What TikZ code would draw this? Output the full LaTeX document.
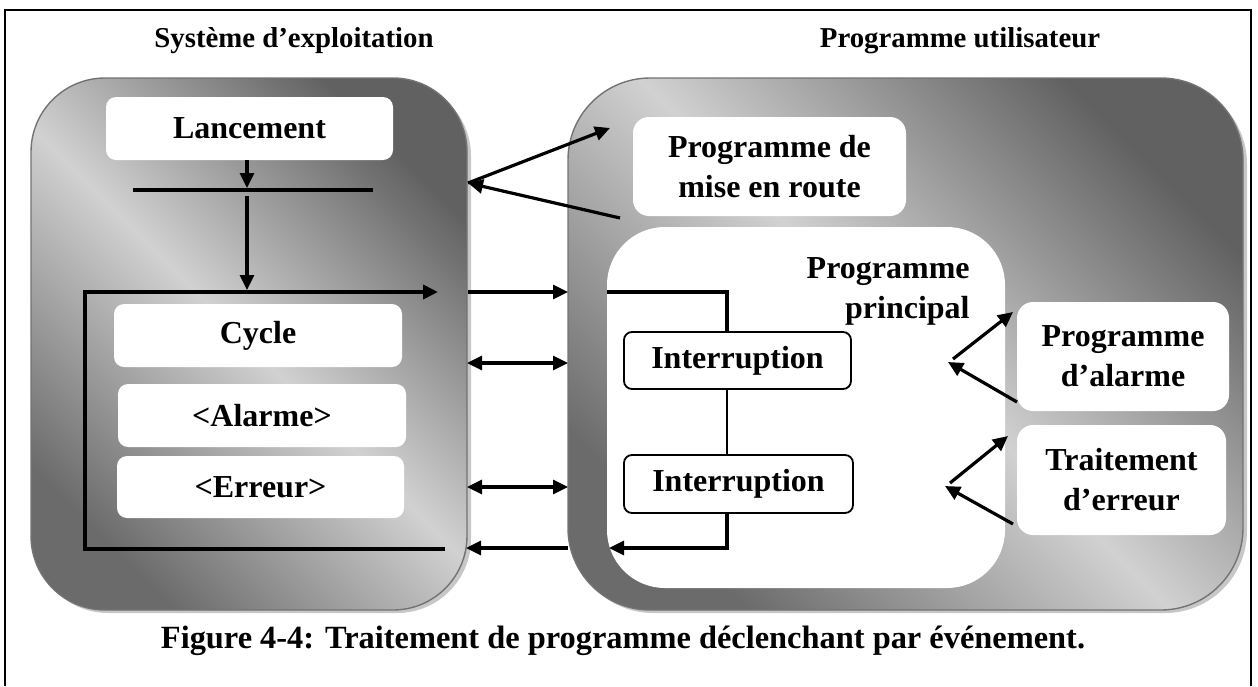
\documentclass[tikz,border=0pt]{standalone}
\usepackage{fontspec}
\setmainfont{Liberation Serif}
\usetikzlibrary{arrows.meta}
\begin{document}
\begin{tikzpicture}[x=0.5pt,y=-0.5pt,
  every node/.style={font=\bfseries\fontsize{16}{20}\selectfont, inner sep=0pt},
  bigbox/.style={draw=black!55, line width=0.7pt, shading=axis,
    top color=black!62, bottom color=black!58, middle color=black!18,
    shading angle=-45},
  shadowbox/.style={fill=black!22},
  wbox/.style={fill=white, rounded corners=5pt, align=center},
  ibox/.style={draw=black, line width=0.9pt, fill=white, rounded corners=4pt},
  link/.style={line width=1.6pt},
  arr/.style={link, -{Triangle[length=7.5pt,width=7pt]}},
  darr/.style={link, {Triangle[length=7.5pt,width=7pt]}-{Triangle[length=7.5pt,width=7pt]}},
  title/.style={font=\bfseries\fontsize{14.4}{17}\selectfont},
]
\useasboundingbox (0,0) rectangle (1258,686);

% outer frame (open at the bottom)
\draw[line width=1pt] (5,686) -- (5,10) -- (1251,10) -- (1251,686);

% column titles
\node[title] (tos) at (294,41) {Système d’exploitation};
\node[title] (tup) at (960,41) {Programme utilisateur};

% large shaded panels with their shadows
\fill[shadowbox, rounded corners=37pt] (34,82) rectangle (471,613);
\draw[bigbox, rounded corners=37pt] (31,78) rectangle (467,610);
\fill[shadowbox, rounded corners=41pt] (571,82) rectangle (1247,613);
\draw[bigbox, rounded corners=41pt] (568,78) rectangle (1243,610);

% operating system side
\node[wbox, minimum width=143.5pt, minimum height=31.5pt] (lanc) at (249.5,128.5) {Lancement};
\node[wbox, minimum width=144pt, minimum height=31.5pt] (cyc) at (258,335.5) {Cycle};
\node[wbox, minimum width=144pt, minimum height=31.5pt] (alm) at (262,415.5) {<Alarme>};
\node[wbox, minimum width=143.5pt, minimum height=31pt] (err) at (260.5,487) {<Erreur>};

\coordinate (barL) at (133,190);
\coordinate (barR) at (373,190);
\coordinate (barC) at (247,190);
\draw[link] (barL) -- (barR);
\draw[arr] (lanc.south -| barC) -- ([yshift=1pt]barC);
\coordinate (loopTop) at (247,292);
\coordinate (loopTL) at (85,292);
\coordinate (loopBL) at (85,549);
\coordinate (loopBR) at (445,549);
\coordinate (loopTR) at (438,292);
\draw[arr] ([yshift=-3pt]barC) -- ([yshift=1pt]loopTop);
\draw[line width=2pt, -{Triangle[length=7.5pt,width=7pt]}, line join=miter]
  (loopBR) -- (loopBL) -- (loopTL) -- (loopTR);

% user program side
\node[wbox, rounded corners=8pt, minimum width=136.5pt, minimum height=49.5pt] (mer) at (769.5,166.5) {Programme de\\mise en route};
\node[fill=white, rounded corners=29pt, minimum width=199pt, minimum height=180.5pt] (main) at (806,407.5) {};
\node[align=right, anchor=east] (mainlbl) at (970,291) {Programme\\principal};
\node[ibox, minimum width=113.5pt, minimum height=28.5pt] (int1) at (737.5,360.5) {Interruption};
\node[ibox, minimum width=114.5pt, minimum height=29pt] (int2) at (738.5,484) {Interruption};
\node[wbox, rounded corners=8pt, minimum width=106pt, minimum height=54.5pt] (palm) at (1123,356.5) {Programme\\d’alarme};
\node[wbox, rounded corners=8pt, minimum width=104.5pt, minimum height=55pt] (terr) at (1121.5,480) {Traitement\\d’erreur};

% the interrupt chain runs along x = 727
\coordinate (chain) at (727,0);

% links between the two panels
\coordinate (osA) at (468,183);
\coordinate (merIn) at (610,128);
\coordinate (merOut) at (620,218);
\draw[arr] (osA) -- (merIn);
\draw[arr] (merOut) -- (osA);

\coordinate (cycOut) at (468,292);
\coordinate (upIn) at (568,292);
\draw[arr] (cycOut) -- (upIn);
\coordinate (mainIn) at (607,292);
\draw[link] (mainIn) -| (chain |- int1.north);

\draw[darr] (467,363) coordinate (almL) -- (568,363) coordinate (almR);
\draw[darr] (467,487) coordinate (errL) -- (568,487) coordinate (errR);

\draw[line width=1.1pt] (chain |- int1.south) -- (chain |- int2.north);
\coordinate (mainOut) at (609,548);
\draw[arr] (chain |- int2.south) |- (mainOut);
\coordinate (upOut) at (568,548);
\coordinate (osIn) at (466,548);
\draw[arr] (upOut) -- (osIn);

% links to the alarm and error routines
\coordinate (aFrom) at (953,359);
\coordinate (aTo) at (1013,312);
\coordinate (aBack) at (1017,402);
\coordinate (aRet) at (948,362);
\draw[arr] (aFrom) -- (aTo);
\draw[arr] (aBack) -- (aRet);
\coordinate (eFrom) at (950,483);
\coordinate (eTo) at (1008,436);
\coordinate (eBack) at (1013,524);
\coordinate (eRet) at (945,486);
\draw[arr] (eFrom) -- (eTo);
\draw[arr] (eBack) -- (eRet);

% caption
\node[font=\bfseries\fontsize{16.2}{20}\selectfont] (cap) at (623,641)
  {Figure 4-4: Traitement de programme déclenchant par événement.};
\end{tikzpicture}
\end{document}
